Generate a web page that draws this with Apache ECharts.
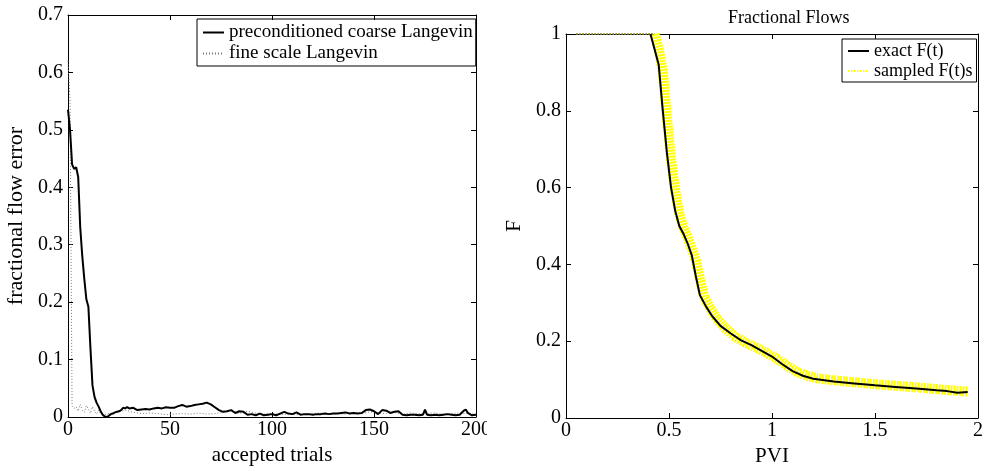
<!DOCTYPE html>
<html>
<head>
<meta charset="utf-8">
<script src="https://cdn.jsdelivr.net/npm/echarts@6/dist/echarts.min.js"></script>
<style>
  html, body { margin: 0; padding: 0; background: #fff; }
  #left { position: absolute; left: 0; top: 0; width: 487px; height: 471px; }
  #right { position: absolute; left: 487px; top: 0; width: 499px; height: 471px; }
</style>
</head>
<body>
<div id="left"></div>
<div id="right"></div>
<script>
// left panel: error vs accepted trials
const coarseTrials = [0, 1, 2, 3, 4, 5, 6, 7, 8, 9, 10, 11, 12, 13, 14, 15, 16, 17, 18, 19, 20, 21, 22, 23, 24, 25, 26, 27, 28, 29, 30, 32, 34, 36, 38, 40, 42, 44, 46, 48, 50, 52, 54, 56, 58, 60, 62, 64, 66, 68, 70, 72, 74, 76, 78, 80, 82, 84, 86, 88, 90, 92, 94, 96, 98, 100, 102, 104, 106, 108, 110, 112, 114, 116, 118, 120, 122, 124, 126, 128, 130, 132, 134, 136, 138, 140, 142, 144, 146, 148, 150, 152, 154, 156, 158, 160, 162, 164, 166, 168, 170, 172, 174, 175, 176, 178, 180, 182, 184, 186, 188, 190, 192, 194, 195, 196, 198, 200];
const coarseError = [0.535, 0.50, 0.44, 0.432, 0.435, 0.418, 0.33, 0.28, 0.24, 0.205, 0.192, 0.12, 0.055, 0.035, 0.025, 0.018, 0.010, 0.004, 0.001, 0.000, 0.002, 0.005, 0.006, 0.008, 0.009, 0.010, 0.012, 0.016, 0.015, 0.017, 0.015, 0.016, 0.012, 0.013, 0.014, 0.013, 0.015, 0.016, 0.015, 0.017, 0.016, 0.016, 0.019, 0.021, 0.018, 0.019, 0.021, 0.022, 0.023, 0.025, 0.022, 0.017, 0.012, 0.009, 0.010, 0.012, 0.007, 0.010, 0.009, 0.004, 0.005, 0.003, 0.006, 0.003, 0.004, 0.005, 0.003, 0.006, 0.009, 0.006, 0.005, 0.008, 0.004, 0.005, 0.005, 0.004, 0.005, 0.005, 0.006, 0.005, 0.006, 0.006, 0.007, 0.008, 0.006, 0.007, 0.006, 0.007, 0.012, 0.013, 0.010, 0.005, 0.012, 0.011, 0.007, 0.009, 0.010, 0.004, 0.003, 0.004, 0.004, 0.003, 0.004, 0.013, 0.004, 0.003, 0.004, 0.003, 0.004, 0.005, 0.004, 0.003, 0.004, 0.011, 0.013, 0.007, 0.003, 0.004];
const fineTrials = [0, 1, 2, 3, 4, 5, 6, 7, 8, 9, 10, 11, 12, 13, 14, 15, 16, 18, 20, 24, 28, 32, 36, 40, 44, 48, 52, 56, 60, 64, 68, 72, 76, 80, 84, 88, 92, 96, 100, 104, 108, 112, 116, 120, 124, 128, 132, 136, 140, 144, 148, 152, 156, 160, 164, 168, 172, 176, 180, 184, 188, 192, 196, 200];
const fineError = [0.62, 0.55, 0.02, 0.015, 0.018, 0.010, 0.022, 0.012, 0.008, 0.020, 0.014, 0.006, 0.018, 0.010, 0.005, 0.012, 0.006, 0.004, 0.006, 0.008, 0.012, 0.008, 0.006, 0.007, 0.006, 0.004, 0.005, 0.006, 0.005, 0.007, 0.005, 0.006, 0.008, 0.012, 0.006, 0.010, 0.007, 0.005, 0.006, 0.004, 0.005, 0.004, 0.005, 0.006, 0.007, 0.005, 0.006, 0.005, 0.008, 0.006, 0.009, 0.007, 0.006, 0.008, 0.005, 0.007, 0.006, 0.006, 0.007, 0.005, 0.006, 0.007, 0.006, 0.005];
const trialTicks = [0, 50, 100, 150, 200];
const errorTicks = [0, 0.1, 0.2, 0.3, 0.4, 0.5, 0.6, 0.7];

// right panel: fractional flows
const exactPvi = [0.41, 0.43, 0.45, 0.47, 0.49, 0.51, 0.53, 0.55, 0.57, 0.59, 0.61, 0.63, 0.65, 0.68, 0.71, 0.75, 0.80, 0.85, 0.90, 0.95, 1.00, 1.05, 1.10, 1.15, 1.20, 1.30, 1.40, 1.50, 1.60, 1.70, 1.80, 1.85, 1.90, 1.95];
const exactF = [1.0, 0.96, 0.92, 0.80, 0.69, 0.60, 0.54, 0.50, 0.48, 0.455, 0.425, 0.37, 0.32, 0.29, 0.265, 0.24, 0.22, 0.202, 0.19, 0.175, 0.16, 0.14, 0.122, 0.11, 0.102, 0.095, 0.09, 0.085, 0.081, 0.077, 0.072, 0.07, 0.066, 0.068];
const sampledPvi = [0.43, 0.45, 0.47, 0.49, 0.51, 0.53, 0.55, 0.57, 0.59, 0.61, 0.63, 0.65, 0.67, 0.70, 0.73, 0.77, 0.82, 0.87, 0.92, 0.97, 1.02, 1.07, 1.12, 1.17, 1.22, 1.32, 1.42, 1.52, 1.62, 1.72, 1.82, 1.87, 1.92, 1.95];
const sampledF = [1.0, 0.96, 0.90, 0.78, 0.67, 0.59, 0.53, 0.495, 0.47, 0.44, 0.41, 0.36, 0.315, 0.285, 0.26, 0.235, 0.212, 0.196, 0.184, 0.17, 0.155, 0.137, 0.12, 0.11, 0.103, 0.097, 0.092, 0.087, 0.083, 0.079, 0.074, 0.072, 0.07, 0.069];
const sampledTopPvi = [0.05, 0.43];
const sampledTopF = [1, 1];
const pviTicks = [0, 0.5, 1, 1.5, 2];
const fTicks = [0, 0.2, 0.4, 0.6, 0.8, 1];

const FONT = 'Liberation Serif';
const zip = (xs, ys) => xs.map((x, i) => [x, ys[i]]);

function boxAxes(ticks, isY, name, nameGap, nameSize, labelSize) {
  const base = {
    type: 'value',
    min: ticks[0],
    max: ticks[ticks.length - 1],
    interval: ticks[1] - ticks[0],
    axisLine: { show: true, onZero: false, lineStyle: { color: '#000', width: 1 } },
    axisTick: { show: true, inside: true, length: 5, lineStyle: { color: '#000' } },
    splitLine: { show: false },
  };
  const main = Object.assign({}, base, {
    position: isY ? 'left' : 'bottom',
    axisLabel: { color: '#000', fontFamily: FONT, fontSize: labelSize, margin: isY ? 5 : 3 },
    name: name,
    nameLocation: 'middle',
    nameGap: nameGap,
    nameTextStyle: { color: '#000', fontFamily: FONT, fontSize: nameSize },
  });
  const mirror = Object.assign({}, base, {
    position: isY ? 'right' : 'top',
    axisLabel: { show: false },
  });
  return [main, mirror];
}

const legendBase = {
  orient: 'vertical',
  itemGap: 2, itemWidth: 21, itemHeight: 14,
  borderColor: '#000', borderWidth: 1, borderRadius: 0,
  selectedMode: false,
  itemStyle: { opacity: 0 },
};

const left = echarts.init(document.getElementById('left'));
left.setOption({
  animation: false,
  grid: { left: 68, top: 15, width: 408, height: 402, outerBoundsMode: 'none', containLabel: false },
  xAxis: boxAxes(trialTicks, false, 'accepted trials', 27, 21, 20),
  yAxis: boxAxes(errorTicks, true, 'fractional flow error', 26, 22, 20),
  legend: Object.assign({}, legendBase, {
    left: 197, top: 19,
    padding: [4, 3, 3, 5],
    textStyle: { fontFamily: FONT, fontSize: 19, color: '#000', lineHeight: 19 },
    data: [{ name: 'preconditioned coarse Langevin' }, { name: 'fine scale Langevin' }],
  }),
  series: [
    {
      name: 'fine scale Langevin', type: 'line', symbol: 'none',
      data: zip(fineTrials, fineError),
      lineStyle: { color: '#777', width: 1, type: [1, 2] },
      itemStyle: { color: '#777' },
    },
    {
      name: 'preconditioned coarse Langevin', type: 'line', symbol: 'none',
      data: zip(coarseTrials, coarseError),
      lineStyle: { color: '#000', width: 2 },
      itemStyle: { color: '#000' },
    },
  ],
});

const right = echarts.init(document.getElementById('right'));
right.setOption({
  animation: false,
  title: {
    text: 'Fractional Flows', left: 236, top: 4,
    textStyle: { fontFamily: FONT, fontSize: 18, fontWeight: 'normal', color: '#000' },
  },
  grid: { left: 79, top: 34, width: 412, height: 384, outerBoundsMode: 'none', containLabel: false },
  xAxis: boxAxes(pviTicks, false, 'PVI', 27, 21, 20),
  yAxis: boxAxes(fTicks, true, 'F', 29, 21, 20),
  legend: Object.assign({}, legendBase, {
    left: 355, top: 39,
    padding: [3, 4, 2, 5],
    textStyle: { fontFamily: FONT, fontSize: 18, color: '#000', lineHeight: 18 },
    data: [
      { name: 'exact F(t)' },
      { name: 'sampled F(t)s', lineStyle: { width: 2, type: [1.5, 1.5], color: '#ffff00' } },
    ],
  }),
  series: [
    {
      name: 'sampled F(t)s', type: 'line', symbol: 'none',
      data: zip(sampledTopPvi, sampledTopF),
      lineStyle: { color: '#8c8c2a', width: 2, type: [1.5, 1.5] },
      itemStyle: { color: '#ffff00' },
    },
    {
      name: 'sampled F(t)s', type: 'line', symbol: 'none',
      data: zip(sampledPvi, sampledF),
      lineStyle: { color: '#ffff00', width: 10, type: [2, 1] },
      itemStyle: { color: '#ffff00' },
    },
    {
      name: 'exact F(t)', type: 'line', symbol: 'none',
      data: zip(exactPvi, exactF),
      lineStyle: { color: '#000', width: 2 },
      itemStyle: { color: '#000' },
    },
  ],
});
</script>
</body>
</html>
